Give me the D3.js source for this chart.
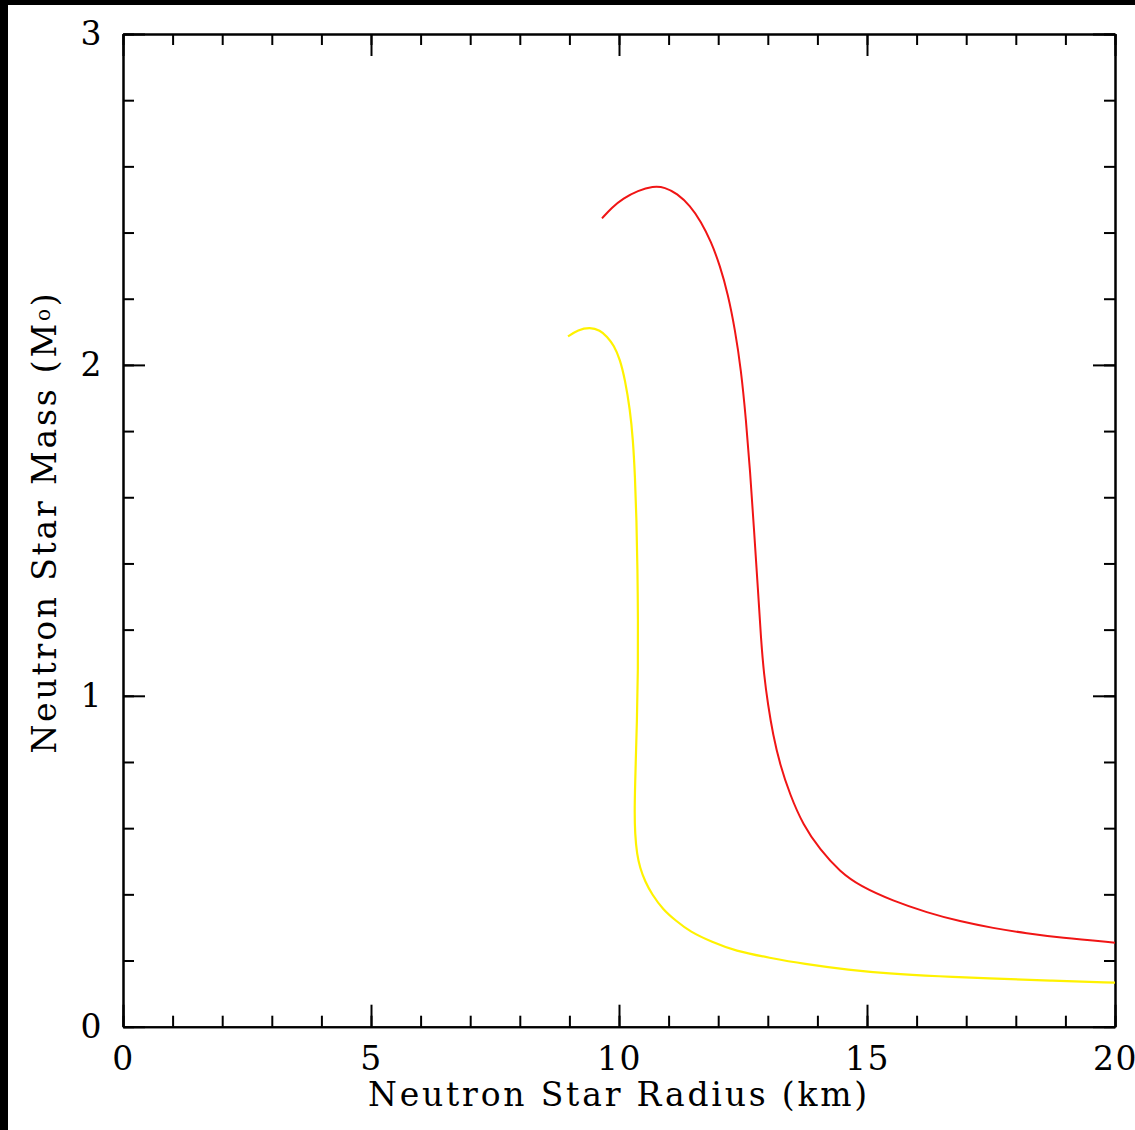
<!DOCTYPE html>
<html>
<head>
<meta charset="utf-8">
<script src="https://cdn.jsdelivr.net/npm/d3@7"></script>
<style>
  body { margin: 0; background: #000; }
  svg { display: block; }
  text { font-family: "DejaVu Serif", serif; fill: #000; }
</style>
</head>
<body>
<div id="chart"></div>
<script>
// radius (km), mass (solar masses)
const redRadius = [9.657, 9.859, 10.081, 10.383, 10.685, 10.927, 11.169, 11.431, 11.653, 11.855, 12.036, 12.198, 12.339, 12.460, 12.560, 12.641, 12.722, 12.802, 12.863, 12.923, 13.004, 13.105, 13.246, 13.448, 13.710, 14.052, 14.456, 14.859, 15.524, 16.210, 16.875, 17.540, 18.226, 18.891, 20.0];
const redMass   = [2.443, 2.476, 2.503, 2.527, 2.540, 2.537, 2.518, 2.482, 2.433, 2.373, 2.300, 2.213, 2.107, 1.986, 1.835, 1.684, 1.502, 1.321, 1.170, 1.064, 0.973, 0.882, 0.792, 0.701, 0.610, 0.535, 0.468, 0.425, 0.380, 0.345, 0.318, 0.298, 0.282, 0.269, 0.254];

const yellowRadius = [8.972, 9.173, 9.415, 9.617, 9.758, 9.899, 10.020, 10.121, 10.222, 10.282, 10.323, 10.353, 10.373, 10.383, 10.383, 10.363, 10.333, 10.312, 10.323, 10.363, 10.423, 10.524, 10.665, 10.887, 11.149, 11.431, 11.875, 12.339, 13.044, 13.710, 14.657, 15.403, 16.472, 17.419, 18.690, 20.0];
const yellowMass   = [2.086, 2.106, 2.114, 2.105, 2.086, 2.059, 2.017, 1.956, 1.865, 1.775, 1.663, 1.533, 1.382, 1.230, 1.079, 0.928, 0.777, 0.656, 0.581, 0.520, 0.481, 0.439, 0.400, 0.354, 0.320, 0.287, 0.256, 0.229, 0.208, 0.190, 0.171, 0.161, 0.152, 0.146, 0.139, 0.133];

const xMajor = [0, 5, 10, 15, 20];
const xMinor = d3.range(0, 21, 1);
const yMajor = [0, 1, 2, 3];
const yMinor = d3.range(0, 3.01, 0.2);

const W = 1135, H = 1130;
const mLeft = 123, mTop = 34, mRight = 1115, mBottom = 1026.7;

const svg = d3.select("#chart").append("svg").attr("width", W).attr("height", H);

// black band on top and left, white page
svg.append("rect").attr("width", W).attr("height", H).attr("fill", "#000");
svg.append("rect").attr("x", 8).attr("y", 5).attr("width", W - 8).attr("height", H - 5).attr("fill", "#fff");

const x = d3.scaleLinear().domain([0, 20]).range([mLeft, mRight]);
const y = d3.scaleLinear().domain([0, 3]).range([mBottom, mTop]);

function styleAxis(g) {
  g.selectAll("path, line").attr("stroke", "#000").attr("stroke-width", 2);
  g.selectAll("text").attr("font-size", 33).attr("font-family", "DejaVu Serif")
    .attr("fill", "#000").attr("letter-spacing", 1.5);
}

// minor ticks, all four sides
svg.append("g").attr("transform", `translate(0,${mBottom})`)
  .call(d3.axisBottom(x).tickValues(xMinor).tickSize(-11).tickSizeOuter(0).tickFormat(""))
  .call(styleAxis);
svg.append("g").attr("transform", `translate(0,${mTop})`)
  .call(d3.axisTop(x).tickValues(xMinor).tickSize(-11).tickSizeOuter(0).tickFormat(""))
  .call(styleAxis);
svg.append("g").attr("transform", `translate(${mLeft},0)`)
  .call(d3.axisLeft(y).tickValues(yMinor).tickSize(-11).tickSizeOuter(0).tickFormat(""))
  .call(styleAxis);
svg.append("g").attr("transform", `translate(${mRight},0)`)
  .call(d3.axisRight(y).tickValues(yMinor).tickSize(-11).tickSizeOuter(0).tickFormat(""))
  .call(styleAxis);

// major ticks with labels
svg.append("g").attr("transform", `translate(0,${mBottom})`)
  .call(d3.axisBottom(x).tickValues(xMajor).tickSize(-22).tickSizeOuter(0).tickPadding(20).tickFormat(d3.format("d")))
  .call(styleAxis);
svg.append("g").attr("transform", `translate(0,${mTop})`)
  .call(d3.axisTop(x).tickValues(xMajor).tickSize(-22).tickSizeOuter(0).tickFormat(""))
  .call(styleAxis);
svg.append("g").attr("transform", `translate(${mLeft},0)`)
  .call(d3.axisLeft(y).tickValues(yMajor).tickSize(-22).tickSizeOuter(0).tickPadding(20).tickFormat(d3.format("d")))
  .call(styleAxis);
svg.append("g").attr("transform", `translate(${mRight},0)`)
  .call(d3.axisRight(y).tickValues(yMajor).tickSize(-22).tickSizeOuter(0).tickFormat(""))
  .call(styleAxis);

const line = d3.line()
  .x(d => x(d[0]))
  .y(d => y(d[1]))
  .curve(d3.curveBasis);

svg.append("path")
  .datum(d3.zip(yellowRadius, yellowMass))
  .attr("fill", "none")
  .attr("stroke", "#fff200")
  .attr("stroke-width", 2.2)
  .attr("d", line);

svg.append("path")
  .datum(d3.zip(redRadius, redMass))
  .attr("fill", "none")
  .attr("stroke", "#f01515")
  .attr("stroke-width", 2)
  .attr("d", line);

// axis titles
svg.append("text")
  .attr("x", (mLeft + mRight) / 2)
  .attr("y", 1106)
  .attr("text-anchor", "middle")
  .attr("font-size", 33)
  .attr("letter-spacing", 2.8)
  .text("Neutron Star Radius (km)");

const yt = svg.append("text")
  .attr("transform", `translate(56,522) rotate(-90)`)
  .attr("text-anchor", "middle")
  .attr("font-size", 33)
  .attr("letter-spacing", 2.8);
yt.append("tspan").text("Neutron Star Mass (M");
yt.append("tspan").attr("font-size", 20).attr("dy", -6).text("o");
yt.append("tspan").attr("dy", 6).text(")");
</script>
</body>
</html>
